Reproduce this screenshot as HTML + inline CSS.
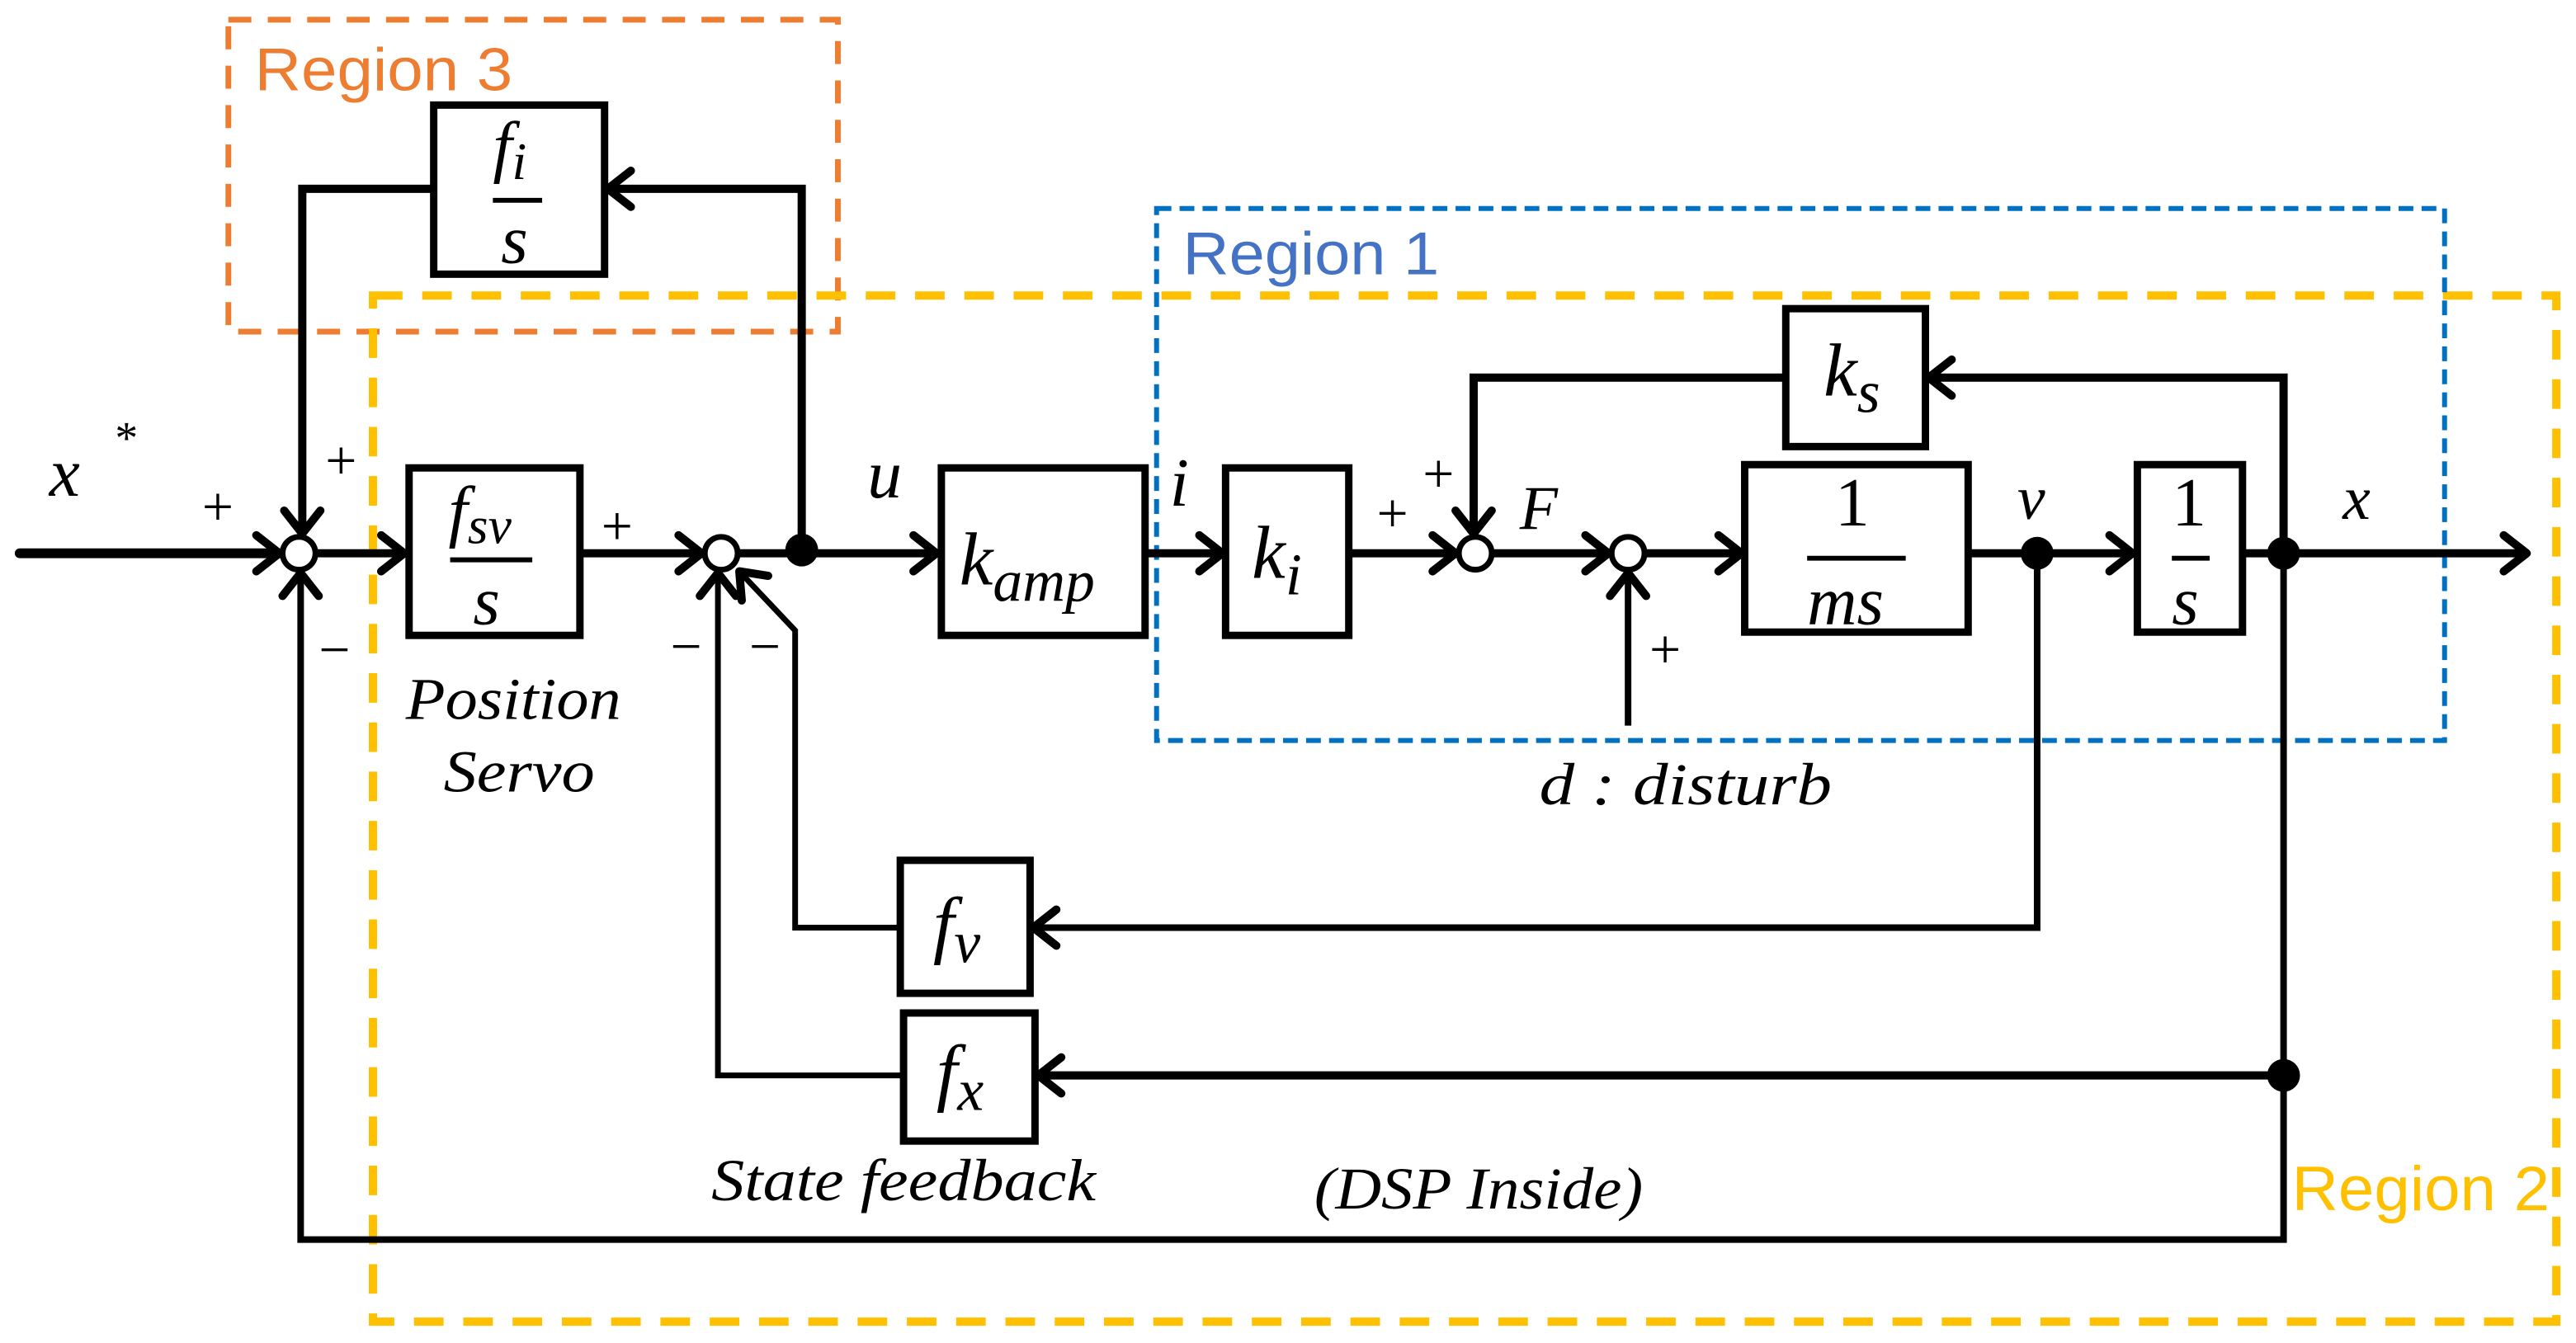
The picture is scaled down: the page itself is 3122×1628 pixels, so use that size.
<!DOCTYPE html>
<html><head><meta charset="utf-8"><style>
html,body{margin:0;padding:0;background:#fff;}
svg{display:block;}
text{font-family:"Liberation Serif",serif;font-style:italic;fill:#000;}
.r{font-family:"Liberation Sans",sans-serif;font-style:normal;}
.n{font-style:normal;}
</style></head><body>
<svg width="3122" height="1628" viewBox="0 0 1568 818" preserveAspectRatio="none" xmlns="http://www.w3.org/2000/svg">
<defs>
<g id="ar"><polyline points="-14,-11 0,0 -14,11" fill="none" stroke="#000" stroke-width="5" stroke-linecap="round" stroke-linejoin="round"/></g>
</defs>
<rect x="139" y="12" width="371" height="190" fill="none" stroke="#ED7D31" stroke-width="3.5" stroke-dasharray="14,10"/>
<rect x="227" y="180" width="1329" height="625" fill="none" stroke="#FFC000" stroke-width="5" stroke-dasharray="18,12"/>
<rect x="704" y="127" width="784" height="324" fill="none" stroke="#0070C0" stroke-width="3" stroke-dasharray="9,5"/>
<text class="r" x="155" y="55" font-size="37" textLength="157" lengthAdjust="spacingAndGlyphs" style="fill:#ED7D31">Region 3</text>
<text class="r" x="720" y="167" font-size="37" textLength="156" lengthAdjust="spacingAndGlyphs" style="fill:#4472C4">Region 1</text>
<text class="r" x="1395" y="737" font-size="38" textLength="157" lengthAdjust="spacingAndGlyphs" style="fill:#FFC000">Region 2</text>

<g fill="none" stroke="#000" stroke-linejoin="miter">
<line x1="12" y1="337" x2="170" y2="337" stroke-width="6" stroke-linecap="round"/>
<line x1="192" y1="337" x2="246" y2="337" stroke-width="5"/>
<line x1="353" y1="337" x2="427" y2="337" stroke-width="5"/>
<line x1="449" y1="337" x2="570" y2="337" stroke-width="5"/>
<line x1="697" y1="337" x2="744" y2="337" stroke-width="5"/>
<line x1="821" y1="337" x2="886" y2="337" stroke-width="5"/>
<line x1="908" y1="337" x2="979" y2="337" stroke-width="5"/>
<line x1="1001" y1="337" x2="1060" y2="337" stroke-width="5"/>
<line x1="1198" y1="337" x2="1298" y2="337" stroke-width="5"/>
<line x1="1365" y1="337" x2="1538" y2="337" stroke-width="5"/>
<polyline points="488,337 488,115 370,115" stroke-width="5"/>
<polyline points="264,115 184,115 184,325" stroke-width="5"/>
<polyline points="1390,337 1390,230 1174,230" stroke-width="5"/>
<polyline points="1087,230 897,230 897,325" stroke-width="5"/>
<line x1="991" y1="442" x2="991" y2="349" stroke-width="4"/>
<polyline points="1240,337 1240,565 629,565" stroke-width="4"/>
<polyline points="548,565 484,565 484,384 450,348" stroke-width="3.5"/>
<polyline points="1390,337 1390,755 183,755 183,349" stroke-width="4"/>
<line x1="1390" y1="655" x2="632" y2="655" stroke-width="5"/>
<polyline points="550,655 437,655 437,349" stroke-width="3.5"/>
</g>
<use href="#ar" transform="translate(170,337)"/>
<use href="#ar" transform="translate(246,337)"/>
<use href="#ar" transform="translate(427,337)"/>
<use href="#ar" transform="translate(570,337)"/>
<use href="#ar" transform="translate(744,337)"/>
<use href="#ar" transform="translate(886,337)"/>
<use href="#ar" transform="translate(979,337)"/>
<use href="#ar" transform="translate(1060,337)"/>
<use href="#ar" transform="translate(1298,337)"/>
<use href="#ar" transform="translate(1538,337)"/>
<use href="#ar" transform="translate(370,115) rotate(180)"/>
<use href="#ar" transform="translate(184,325) rotate(90)"/>
<use href="#ar" transform="translate(1174,230) rotate(180)"/>
<use href="#ar" transform="translate(897,325) rotate(90)"/>
<use href="#ar" transform="translate(991,349) rotate(-90)"/>
<use href="#ar" transform="translate(629,565) rotate(180)"/>
<use href="#ar" transform="translate(632,655) rotate(180)"/>
<use href="#ar" transform="translate(183,349) rotate(-90)"/>
<use href="#ar" transform="translate(437,349) rotate(-90)"/>
<use href="#ar" transform="translate(450,348) rotate(-133)"/>
<g fill="#fff" stroke="#000" stroke-width="3.5">
<circle cx="182" cy="337" r="10"/>
<circle cx="439" cy="337" r="10"/>
<circle cx="898" cy="337" r="10"/>
<circle cx="991" cy="337" r="10"/>
</g>
<g fill="#000">
<circle cx="488" cy="335" r="10"/>
<circle cx="1240" cy="337" r="10"/>
<circle cx="1390" cy="337" r="10"/>
<circle cx="1390" cy="655" r="10"/>
</g>
<g fill="#fff" stroke="#000" stroke-width="4.5">
<rect x="264" y="64" width="104" height="103"/>
<rect x="249" y="285" width="104" height="102"/>
<rect x="573" y="285" width="124" height="102"/>
<rect x="746" y="285" width="75" height="102"/>
<rect x="1087" y="188" width="85" height="84"/>
<rect x="1062" y="283" width="136" height="102"/>
<rect x="1301" y="283" width="64" height="102"/>
<rect x="548" y="524" width="79" height="81"/>
<rect x="550" y="617" width="80" height="78"/>
</g>
<g stroke="#000" stroke-width="3">
<line x1="300" y1="122" x2="330" y2="122"/>
<line x1="274" y1="341" x2="324" y2="341"/>
<line x1="1100" y1="340" x2="1160" y2="340"/>
<line x1="1322" y1="340" x2="1345" y2="340"/>
</g>
<text x="300" y="103" font-size="42">f<tspan font-size="32" dy="6">i</tspan></text>
<text x="305" y="160" font-size="42">s</text>
<text x="273" y="325" font-size="42">f<tspan font-size="32" dy="6">sv</tspan></text>
<text x="288" y="380" font-size="42">s</text>
<text x="584" y="356" font-size="46">k<tspan font-size="36" dy="10">amp</tspan></text>
<text x="762" y="352" font-size="46">k<tspan font-size="36" dy="10">i</tspan></text>
<text x="1110" y="241" font-size="46">k<tspan font-size="36" dy="10">s</tspan></text>
<text class="n" x="1117" y="320" font-size="42">1</text>
<text x="1100" y="380" font-size="42">ms</text>
<text class="n" x="1322" y="320" font-size="42">1</text>
<text x="1322" y="380" font-size="42">s</text>
<text x="568" y="578" font-size="46">f<tspan font-size="36" dy="8">v</tspan></text>
<text x="570" y="668" font-size="46">f<tspan font-size="36" dy="8">x</tspan></text>
<text x="30" y="302" font-size="42">x</text>
<text class="n" x="70" y="276" font-size="28">*</text>
<text x="528" y="303" font-size="42">u</text>
<text x="712" y="308" font-size="42">i</text>
<text x="925" y="322" font-size="38">F</text>
<text x="1228" y="316" font-size="38">v</text>
<text x="1426" y="316" font-size="38">x</text>
<text class="n" x="123" y="320" font-size="34">+</text>
<text class="n" x="198" y="292" font-size="34">+</text>
<text class="n" x="194" y="407" font-size="34">−</text>
<text class="n" x="366" y="332" font-size="34">+</text>
<text class="n" x="408" y="405" font-size="34">−</text>
<text class="n" x="456" y="405" font-size="34">−</text>
<text class="n" x="838" y="324" font-size="34">+</text>
<text class="n" x="866" y="300" font-size="34">+</text>
<text class="n" x="1004" y="407" font-size="34">+</text>
<text x="937" y="490" font-size="36" textLength="178" lengthAdjust="spacingAndGlyphs">d : disturb</text>
<text x="247" y="438" font-size="36" textLength="131" lengthAdjust="spacingAndGlyphs">Position</text>
<text x="270" y="482" font-size="36" textLength="92" lengthAdjust="spacingAndGlyphs">Servo</text>
<text x="433" y="731" font-size="36" textLength="234" lengthAdjust="spacingAndGlyphs">State feedback</text>
<text x="800" y="736" font-size="36" textLength="200" lengthAdjust="spacingAndGlyphs">(DSP  Inside)</text>
</svg>
</body></html>
